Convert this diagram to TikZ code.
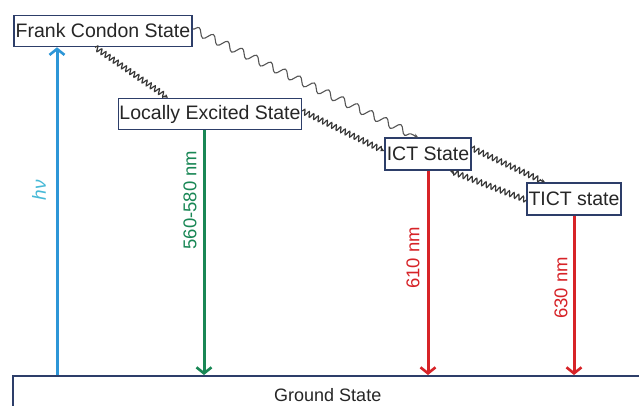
\documentclass[tikz,border=0pt]{standalone}
\usepackage{fontspec}
\setmainfont{Liberation Sans}
\usetikzlibrary{decorations.pathmorphing,arrows.meta}
\definecolor{boxc}{RGB}{45,62,105}
\definecolor{hvblue}{RGB}{45,150,215}
\definecolor{hvtext}{RGB}{70,185,215}
\definecolor{emgreen}{RGB}{25,135,85}
\definecolor{emred}{RGB}{215,35,40}
\definecolor{wavec}{RGB}{55,55,55}
\begin{document}
\begin{tikzpicture}[x=1pt,y=-1pt,
  state/.style={draw=boxc, line width=1.5pt, fill=white, inner sep=0pt, text=black!85,
    font=\fontsize{19.5}{22}\selectfont},
  wl/.style={rotate=90, font=\fontsize{18.5}{20}\selectfont},
  emis/.style={line width=3pt, -{Straight Barb[length=6pt,width=15pt,line width=2.6pt]}},
  dense/.style={wavec, line width=1.2pt, decorate,
    decoration={snake, segment length=5pt, amplitude=2.6pt, post length=3pt},
    -{Stealth[length=4pt,width=4pt]}},
  loose/.style={wavec!85, line width=1.1pt, decorate,
    decoration={snake, segment length=16pt, amplitude=4pt, post length=3pt},
    -{Stealth[length=4pt,width=4pt]}}
]
\clip (0,0) rectangle (639,405);
\fill[white] (0,0) rectangle (639,405);

\node[state, minimum width=630, minimum height=40, anchor=north west, font=\fontsize{18}{20}\selectfont] (gs) at (12,375) {\raisebox{2pt}{Ground State}};
\node[state, minimum width=178, minimum height=31] (fc) at (103,31) {Frank Condon State};
\node[state, minimum width=183, minimum height=31] (le) at (210,114) {Locally Excited State};
\node[state, minimum width=86, minimum height=32] (ict) at (428,154) {ICT State};
\node[state, minimum width=94, minimum height=32] (tict) at (574,199) {TICT state};

\coordinate (hvx) at (57,0);
\draw[emis, draw=hvblue] (hvx |- gs.north) -- (hvx |- fc.south);
\node[wl, text=hvtext, font=\fontsize{19}{20}\selectfont\itshape] (hvl) at (39,190) {hν};

\coordinate (lex) at (204,0);
\draw[emis, draw=emgreen] (lex |- le.south) -- (lex |- gs.north);
\node[wl, text=emgreen] (l1) at (190,200) {560-580 nm};

\draw[emis, draw=emred] (ict.south) -- (ict.south |- gs.north);
\node[wl, text=emred] (l2) at (413,258) {610 nm};

\draw[emis, draw=emred] (tict.south) -- (tict.south |- gs.north);
\node[wl, text=emred] (l3) at (561,288) {630 nm};

\draw[dense] ([xshift=-8pt]fc.south) -- ([xshift=-42pt]le.north);
\draw[loose] ([yshift=2pt]fc.east) -- ([xshift=-10pt]ict.north);
\draw[dense] ([yshift=3pt]le.east) -- ([yshift=3pt]ict.west);
\draw[dense] ([yshift=6pt]ict.east) -- ([xshift=-29pt]tict.north);
\draw[dense] ([yshift=-1pt]tict.west) -- ([xshift=22pt]ict.south);
\end{tikzpicture}
\end{document}
